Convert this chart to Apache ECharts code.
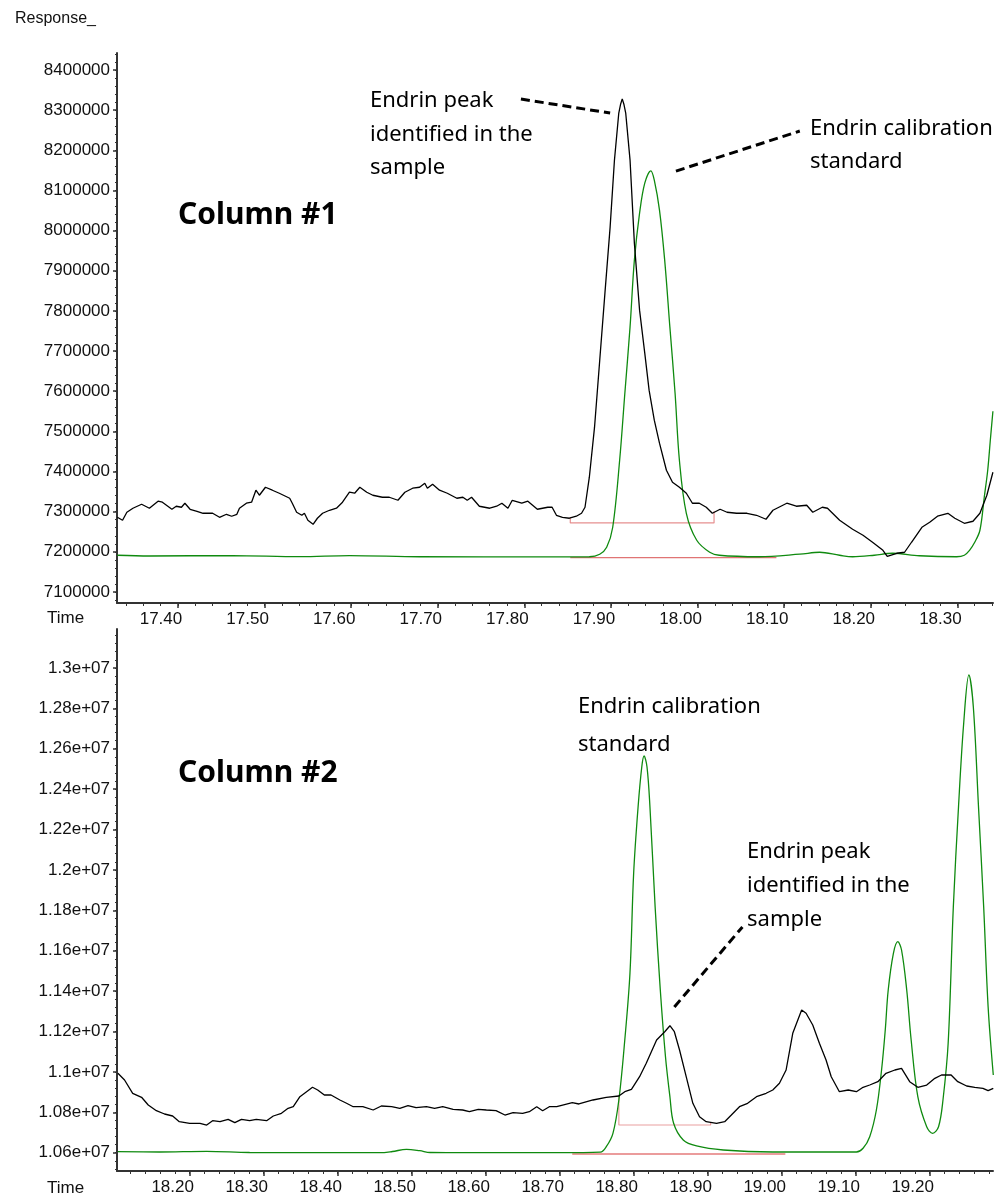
<!DOCTYPE html>
<html>
<head>
<meta charset="utf-8">
<title>Endrin – Column #1 / Column #2</title>
<script src="https://cdn.jsdelivr.net/npm/echarts@6/dist/echarts.min.js"></script>
<style>
  html, body { margin: 0; padding: 0; background: #fff; }
  #chart { width: 1007px; height: 1197px; }
</style>
</head>
<body>
<div id="chart"></div>
<script>
// ---------- Column #1 ----------
const c1SampleTime = [17.330,17.336,17.341,17.348,17.358,17.367,17.377,17.382,17.393,17.398,17.404,17.408,17.414,17.422,17.429,17.440,17.448,17.456,17.462,17.468,17.471,17.479,17.485,17.490,17.494,17.501,17.509,17.517,17.529,17.532,17.537,17.543,17.546,17.550,17.556,17.561,17.567,17.575,17.583,17.590,17.598,17.604,17.610,17.618,17.625,17.636,17.644,17.654,17.662,17.671,17.679,17.685,17.688,17.694,17.702,17.711,17.722,17.729,17.734,17.739,17.748,17.760,17.768,17.774,17.781,17.786,17.797,17.804,17.815,17.827,17.832,17.837,17.844,17.852,17.860,17.866,17.870,17.875,17.881,17.887,17.893,17.899,17.904,17.909,17.911,17.913,17.915,17.917,17.922,17.927,17.933,17.939,17.944,17.950,17.956,17.964,17.971,17.979,17.987,17.994,18.002,18.010,18.017,18.026,18.034,18.045,18.057,18.068,18.079,18.087,18.103,18.114,18.126,18.133,18.144,18.150,18.164,18.179,18.191,18.202,18.214,18.219,18.230,18.239,18.247,18.259,18.268,18.277,18.289,18.297,18.308,18.318,18.326,18.334,18.341];
const c1SampleResp = [7286000,7278600,7298500,7308500,7318500,7308500,7326000,7323500,7306000,7313500,7311000,7321000,7306000,7301000,7296000,7296000,7286000,7293500,7288600,7293500,7308500,7321000,7323500,7353400,7340900,7360800,7353400,7345900,7333400,7321000,7298500,7291000,7296000,7278600,7268600,7283600,7296000,7303500,7308500,7323500,7348400,7345900,7360800,7348400,7340900,7335900,7335900,7328400,7348400,7358400,7360800,7370800,7358400,7368300,7353400,7345900,7333400,7335900,7328400,7335900,7313500,7308500,7313500,7321000,7308500,7328400,7321000,7326000,7306000,7311000,7311000,7291000,7286000,7283600,7288600,7296000,7311000,7385800,7510400,7677300,7844300,8008800,8175700,8292800,8314000,8328000,8314000,8292800,8175700,7968900,7801900,7694800,7602600,7527800,7470500,7403200,7373300,7360800,7345900,7321000,7321000,7311000,7296000,7306000,7298500,7296000,7296000,7291000,7281100,7303500,7321000,7313500,7316000,7298500,7311000,7308500,7278600,7256200,7241200,7223800,7203800,7188900,7196400,7198900,7223800,7261100,7273600,7288600,7296000,7283600,7271100,7276100,7296000,7340900,7398200];

const c1StdTime = [17.330,17.367,17.463,17.541,17.598,17.679,17.827,17.875,17.887,17.895,17.902,17.910,17.916,17.922,17.927,17.933,17.939,17.946,17.950,17.956,17.962,17.968,17.974,17.979,17.987,17.999,18.014,18.025,18.071,18.118,18.141,18.164,18.179,18.204,18.225,18.256,18.299,18.308,18.314,18.320,18.326,18.331,18.335,18.338,18.341];
const c1StdResp = [7191400,7189600,7190700,7188100,7190700,7187700,7187200,7187700,7194000,7211300,7261200,7428100,7595100,7759600,7926500,8043600,8118400,8149000,8125900,8051100,7926500,7759600,7595100,7428100,7296000,7228800,7198900,7191400,7187700,7194000,7198900,7191400,7187700,7191400,7196400,7190200,7187700,7191400,7203800,7223800,7253700,7335900,7403200,7477900,7550200];

// integration baselines
const c1SampleBaseTime = [17.853,17.853,18.019,18.019];
const c1SampleBaseResp = [7286000,7271900,7271900,7301000];
const c1StdBaseTime = [17.853,18.091];
const c1StdBaseResp = [7185600,7185600];

const c1TimeTicks = [17.40,17.50,17.60,17.70,17.80,17.90,18.00,18.10,18.20,18.30];
const c1RespTicks = [7100000,7200000,7300000,7400000,7500000,7600000,7700000,7800000,7900000,8000000,8100000,8200000,8300000,8400000];

// ---------- Column #2 ----------
const c2SampleTime = [18.103,18.112,18.123,18.135,18.144,18.155,18.166,18.177,18.186,18.200,18.214,18.223,18.231,18.241,18.252,18.261,18.270,18.281,18.290,18.304,18.313,18.324,18.333,18.340,18.349,18.358,18.366,18.373,18.382,18.391,18.403,18.412,18.421,18.434,18.448,18.459,18.473,18.484,18.495,18.506,18.520,18.531,18.542,18.556,18.569,18.578,18.590,18.601,18.614,18.626,18.637,18.650,18.659,18.669,18.677,18.686,18.696,18.704,18.717,18.726,18.745,18.763,18.780,18.788,18.797,18.808,18.817,18.831,18.842,18.849,18.855,18.862,18.871,18.880,18.889,18.898,18.912,18.923,18.932,18.943,18.954,18.966,18.979,18.988,18.997,19.006,19.015,19.027,19.033,19.042,19.051,19.060,19.067,19.078,19.090,19.101,19.110,19.119,19.130,19.141,19.153,19.162,19.173,19.184,19.196,19.207,19.216,19.229,19.238,19.250,19.261,19.272,19.279,19.286];
const c2SampleResp = [10993000,10959900,10894100,10874300,10836100,10807900,10791600,10781700,10753500,10745500,10745500,10737100,10758400,10753500,10765300,10748500,10765300,10758400,10765300,10758400,10781700,10795100,10819800,10827700,10877200,10902000,10923800,10910400,10885600,10885600,10860900,10844600,10827700,10827700,10811400,10831200,10827700,10819800,10832700,10822800,10827700,10819800,10827700,10814900,10811400,10803000,10814900,10811400,10807900,10786600,10798000,10795100,10803000,10827700,10807900,10827700,10827700,10836100,10847500,10841100,10860900,10874300,10880700,10902000,10913900,10976200,11042600,11157900,11199000,11228700,11199000,11108400,10976200,10844600,10778200,10753500,10745500,10753500,10786600,10827700,10844600,10877200,10894100,10910400,10943600,11009400,11191100,11306400,11290100,11232200,11141600,11058900,10976200,10902000,10910400,10902000,10923800,10935100,10951500,10993100,11009400,11017800,10951500,10923800,10935100,10968300,10984600,10984600,10951500,10930200,10923800,10918800,10906900,10918800];

const c2StdTime = [18.103,18.159,18.223,18.281,18.389,18.457,18.474,18.493,18.511,18.525,18.578,18.700,18.755,18.763,18.772,18.780,18.788,18.795,18.800,18.806,18.811,18.814,18.818,18.822,18.829,18.836,18.843,18.849,18.854,18.867,18.885,18.921,18.988,19.101,19.110,19.119,19.128,19.135,19.140,19.144,19.151,19.157,19.162,19.169,19.175,19.184,19.196,19.204,19.212,19.218,19.225,19.232,19.239,19.246,19.253,19.259,19.266,19.273,19.279,19.286];
const c2StdResp = [10605000,10603500,10606900,10601000,10600000,10600000,10605900,10616800,10609900,10601000,10600000,10600000,10603000,10629700,10696000,10860900,11157900,11488100,11984700,12312900,12510900,12563900,12510900,12312900,11817800,11405400,11075200,10877200,10745500,10662900,10633200,10613400,10603500,10603500,10621800,10679200,10811400,11009400,11207400,11405400,11587100,11644600,11603500,11405400,11157900,10877200,10728700,10696000,10728700,10860900,11141600,11817800,12312900,12725800,12964900,12807900,12312900,11817800,11322800,10984700];

const c2SampleBaseTime = [18.780,18.780,18.904,18.904];
const c2SampleBaseResp = [10877200,10737100,10737100,10747000];
const c2StdBaseTime = [18.717,19.005];
const c2StdBaseResp = [10593600,10593600];

const c2TimeTicks = [18.20,18.30,18.40,18.50,18.60,18.70,18.80,18.90,19.00,19.10,19.20];
const c2RespTicks = [10600000,10800000,11000000,11200000,11400000,11600000,11800000,12000000,12200000,12400000,12600000,12800000,13000000];

// ---------- helpers ----------
const zip = (xs, ys) => xs.map((x, i) => [x, ys[i]]);
const steps = (from, to, step) => {
  const out = [];
  const n = Math.round((to - from) / step);
  for (let i = 0; i <= n; i++) out.push(+(from + i * step).toFixed(6));
  return out;
};

const AXIS_COLOR = '#333';
const TICK_FONT = 'Liberation Sans, Arial, sans-serif';
const NOTE_FONT = '"Noto Sans", "Open Sans", sans-serif';
const SAMPLE_COLOR = '#000000';
const STD_COLOR = '#0f8a0f';

const grids = [
  { left: 117, top: 53, width: 876, height: 550 },
  { left: 117, top: 629, width: 876, height: 542 }
];

const ranges = [
  { xMin: 17.3296, xMax: 18.3411, yMin: 7072500, yMax: 8442400,
    xTicks: c1TimeTicks, yTicks: c1RespTicks,
    xMinor: steps(17.34, 18.34, 0.02), yMinor: steps(7080000, 8440000, 20000),
    yFmt: v => String(Math.round(v)) },
  { xMin: 18.1018, xMax: 19.2856, yMin: 10509400, yMax: 13192600,
    xTicks: c2TimeTicks, yTicks: c2RespTicks,
    xMinor: steps(18.12, 19.28, 0.02), yMinor: steps(10520000, 13160000, 40000),
    yFmt: v => (v / 1e7).toFixed(2).replace(/0$/, '') + 'e+07' }
];

const xAxes = [], yAxes = [];
ranges.forEach((r, g) => {
  xAxes.push({
    type: 'value', gridIndex: g, position: 'bottom', min: r.xMin, max: r.xMax,
    axisLine: { show: true, onZero: false, lineStyle: { color: AXIS_COLOR, width: 2 } },
    axisTick: { show: true, length: 5, customValues: r.xTicks, lineStyle: { color: AXIS_COLOR, width: 1.5 } },
    axisLabel: { show: true, customValues: r.xTicks, formatter: v => v.toFixed(2),
      margin: 8, color: '#111', fontFamily: TICK_FONT, fontSize: 17, padding: [0, 34, 0, 0] },
    splitLine: { show: false }
  });
  xAxes.push({
    type: 'value', gridIndex: g, position: 'bottom', offset: 0, min: r.xMin, max: r.xMax,
    axisLine: { show: false, onZero: false },
    axisTick: { show: true, length: 3, customValues: r.xMinor, lineStyle: { color: AXIS_COLOR, width: 1 } },
    axisLabel: { show: false }, splitLine: { show: false }
  });
  yAxes.push({
    type: 'value', gridIndex: g, position: 'left', min: r.yMin, max: r.yMax,
    axisLine: { show: true, onZero: false, lineStyle: { color: AXIS_COLOR, width: 2 } },
    axisTick: { show: true, length: 4, customValues: r.yTicks, lineStyle: { color: AXIS_COLOR, width: 1.5 } },
    axisLabel: { show: true, customValues: r.yTicks, formatter: r.yFmt,
      margin: 7, color: '#111', fontFamily: TICK_FONT, fontSize: 17 },
    splitLine: { show: false }
  });
  yAxes.push({
    type: 'value', gridIndex: g, position: 'left', offset: 0, min: r.yMin, max: r.yMax,
    axisLine: { show: false, onZero: false },
    axisTick: { show: true, length: 2, customValues: r.yMinor, lineStyle: { color: AXIS_COLOR, width: 1 } },
    axisLabel: { show: false }, splitLine: { show: false }
  });
});

function trace(data, g, color, width, smooth, z) {
  return {
    type: 'line', xAxisIndex: g * 2, yAxisIndex: g * 2, data,
    showSymbol: false, symbol: 'none', smooth: smooth || false, silent: true, z: z || 2,
    lineStyle: { color, width }
  };
}

function leader(g, from, to) {
  return {
    type: 'line', xAxisIndex: g * 2, yAxisIndex: g * 2, data: [], silent: true,
    markLine: {
      silent: true, symbol: ['none', 'none'], animation: false,
      label: { show: false },
      lineStyle: { color: '#000', width: 3, type: [9, 5] },
      data: [[{ coord: from }, { coord: to }]]
    }
  };
}

const series = [
  trace(zip(c1StdTime, c1StdResp), 0, STD_COLOR, 1.3, 0.35, 2),
  trace(zip(c1SampleTime, c1SampleResp), 0, SAMPLE_COLOR, 1.3, false, 3),
  trace(zip(c1SampleBaseTime, c1SampleBaseResp), 0, '#e69090', 1.2, false, 1),
  trace(zip(c1StdBaseTime, c1StdBaseResp), 0, '#e07474', 1.2, false, 1),
  trace(zip(c2StdTime, c2StdResp), 1, STD_COLOR, 1.3, 0.35, 2),
  trace(zip(c2SampleTime, c2SampleResp), 1, SAMPLE_COLOR, 1.3, false, 3),
  trace(zip(c2SampleBaseTime, c2SampleBaseResp), 1, '#eaa0a0', 1.2, false, 1),
  trace(zip(c2StdBaseTime, c2StdBaseResp), 1, '#d83a3a', 1.2, false, 1),
  leader(0, [17.796, 8327700], [17.899, 8292800]),
  leader(0, [17.975, 8148300], [18.118, 8248000]),
  leader(1, [18.855, 11321300], [18.947, 11717800])
];

function label(x, y, text, size, weight, lineHeight) {
  return {
    type: 'text', x, y, silent: true,
    style: { text, fill: '#000', font: (weight || 'normal') + ' ' + size + 'px ' + NOTE_FONT,
      lineHeight: lineHeight || size * 1.3, align: 'left', verticalAlign: 'top' }
  };
}
function axisText(x, y, text, size) {
  return {
    type: 'text', x, y, silent: true,
    style: { text, fill: '#111', font: size + 'px ' + TICK_FONT, align: 'left', verticalAlign: 'middle' }
  };
}

const graphics = [
  axisText(15, 19, 'Response_', 16),
  axisText(47, 618, 'Time', 17),
  axisText(47, 1188, 'Time', 17),
  label(178, 196, 'Column #1', 30, 'bold'),
  label(178, 754, 'Column #2', 30, 'bold'),
  label(370, 84, 'Endrin peak\nidentified in the\nsample', 22, 'normal', 33.5),
  label(810, 112, 'Endrin calibration\nstandard', 22, 'normal', 33),
  label(578, 688, 'Endrin calibration\nstandard', 22, 'normal', 38),
  label(747, 835, 'Endrin peak\nidentified in the\nsample', 22, 'normal', 34)
];

const chart = echarts.init(document.getElementById('chart'), null, { renderer: 'canvas' });
chart.setOption({
  animation: false,
  backgroundColor: '#fff',
  grid: grids,
  xAxis: xAxes,
  yAxis: yAxes,
  series,
  graphic: graphics
});
</script>
</body>
</html>
